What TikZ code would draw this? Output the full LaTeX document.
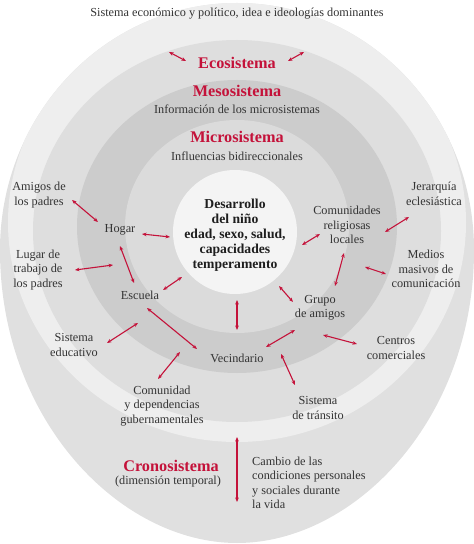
\documentclass[tikz,border=0pt]{standalone}
\usepackage{fontspec}
\setmainfont{Liberation Serif}
\usetikzlibrary{arrows.meta}
\definecolor{redc}{HTML}{C4123A}
\definecolor{txt}{HTML}{333333}
\definecolor{childtxt}{HTML}{1E1E1E}
\definecolor{eggc}{HTML}{E0E0E0}
\definecolor{macroc}{HTML}{EEEEEE}
\definecolor{ecoc}{HTML}{DEDEDE}
\definecolor{mesoc}{HTML}{CCCCCC}
\definecolor{microc}{HTML}{DBDBDB}
\definecolor{childc}{HTML}{F4F4F4}
\begin{document}
\begin{tikzpicture}[x=1bp,y=-1bp,
  lbl/.style={inner sep=0pt, align=center, text=txt, font=\fontsize{12.3}{14.5}\selectfont},
  sysname/.style={inner sep=0pt, text=redc, font=\fontsize{16.3}{18}\selectfont\bfseries},
  arr/.style={draw=redc, line width=1.1bp, {Stealth[length=4.5bp,width=3.6bp]}-{Stealth[length=4.5bp,width=3.6bp]}}]
\useasboundingbox (0,0) rectangle (474,544);
% egg-shaped outer region
\fill[eggc] (0,250) .. controls (0,113.6) and (106,3) .. (237,3) .. controls (368,3) and (474,113.6) .. (474,250) .. controls (474,420) and (354,543) .. (237,543) .. controls (120,543) and (0,420) .. (0,250) -- cycle;
\begin{scope}
  \clip (0,250) .. controls (0,113.6) and (106,3) .. (237,3) .. controls (368,3) and (474,113.6) .. (474,250) .. controls (474,420) and (354,543) .. (237,543) .. controls (120,543) and (0,420) .. (0,250) -- cycle;
  \fill[macroc] (237,222.5) ellipse [x radius=229, y radius=219.5];
\end{scope}
\fill[ecoc] (237,231) ellipse [x radius=204, y radius=191];
\fill[mesoc] (237,226.5) ellipse [x radius=160, y radius=146.5];
\fill[microc] (237,226.5) ellipse [x radius=112, y radius=106.5];
\fill[childc] (235,232) circle [radius=62];

% texts
\node[lbl] (title) at (237,14) {Sistema económico y político, idea e ideologías dominantes};
\node[sysname] (eco) at (237,63) {Ecosistema};
\node[sysname] (meso) at (237,91) {Mesosistema};
\node[lbl] (info) at (237,109) {Información de los microsistemas};
\node[sysname] (micro) at (237,137) {Microsistema};
\node[lbl] (influ) at (237,156) {Influencias bidireccionales};
\node[inner sep=0pt, align=center, text=childtxt, font=\fontsize{13.7}{15}\selectfont\bfseries] (child) at (235,235)
  {Desarrollo\\del niño\\edad, sexo, salud,\\capacidades\\temperamento};
\node[lbl] (hogar) at (120,230) {Hogar};
\node[lbl] (amigos) at (39,195) {Amigos de\\los padres};
\node[lbl] (lugar) at (38,270) {Lugar de\\trabajo de\\los padres};
\node[lbl] (escuela) at (140,295) {Escuela};
\node[lbl] (sisteduc) at (74,345) {Sistema\\educativo};
\node[lbl] (vecin) at (237,358) {Vecindario};
\node[lbl] (comun) at (162,406) {Comunidad\\y dependencias\\gubernamentales};
\node[lbl] (transito) at (318,408) {Sistema\\de tránsito};
\node[lbl] (grupo) at (320,308) {Grupo\\de amigos};
\node[lbl] (comrel) at (347,225) {Comunidades\\religiosas\\locales};
\node[lbl] (jerar) at (434,194) {Jerarquía\\eclesiástica};
\node[lbl] (medios) at (426,269) {Medios\\masivos de\\comunicación};
\node[lbl] (centros) at (396,348) {Centros\\comerciales};
\node[sysname] (crono) at (171,466) {Cronosistema};
\node[lbl] (cronodim) at (168,482) {(dimensión temporal)};
\node[lbl, align=left, anchor=west] (cambio) at (252,483)
  {Cambio de las\\condiciones personales\\y sociales durante\\la vida};

% arrow end points
\coordinate (ecoL1) at (169,52);   \coordinate (ecoL2) at (186,61);
\coordinate (ecoR1) at (288,61);   \coordinate (ecoR2) at (304,52);
\coordinate (amH1) at (72,200);    \coordinate (amH2) at (98,222);
\coordinate (hC1) at (142,234);    \coordinate (hC2) at (170,237);
\coordinate (luH1) at (75,270);    \coordinate (luH2) at (113,265);
\coordinate (hE1) at (120,246);    \coordinate (hE2) at (134,283);
\coordinate (eC1) at (163,290);    \coordinate (eC2) at (182,277);
\coordinate (seE1) at (107,343);   \coordinate (seE2) at (138,323);
\coordinate (eV1) at (147,308);    \coordinate (eV2) at (197,349);
\coordinate (cV1) at (237,300);    \coordinate (cV2) at (237,330);
\coordinate (coV1) at (158,379);   \coordinate (coV2) at (180,352);
\coordinate (vT1) at (281,354);    \coordinate (vT2) at (295,385);
\coordinate (gC1) at (279,286);    \coordinate (gC2) at (293,302);
\coordinate (vG1) at (266,347);    \coordinate (vG2) at (295,330);
\coordinate (gR1) at (335,286);    \coordinate (gR2) at (344,253);
\coordinate (rC1) at (302,245);    \coordinate (rC2) at (320,234);
\coordinate (rJ1) at (385,232);    \coordinate (rJ2) at (409,217);
\coordinate (me1) at (365,267);    \coordinate (me2) at (386,274);
\coordinate (ce1) at (323,335);    \coordinate (ce2) at (357,344);
\coordinate (cr1) at (237,437);    \coordinate (cr2) at (237,502);

\foreach \a/\b in {ecoL1/ecoL2, ecoR1/ecoR2, amH1/amH2, hC1/hC2, luH1/luH2, hE1/hE2,
  eC1/eC2, seE1/seE2, eV1/eV2, cV1/cV2, coV1/coV2, vT1/vT2, gC1/gC2, vG1/vG2,
  gR1/gR2, rC1/rC2, rJ1/rJ2, me1/me2, ce1/ce2, cr1/cr2}
  \draw[arr] (\a) -- (\b);
\end{tikzpicture}
\end{document}
